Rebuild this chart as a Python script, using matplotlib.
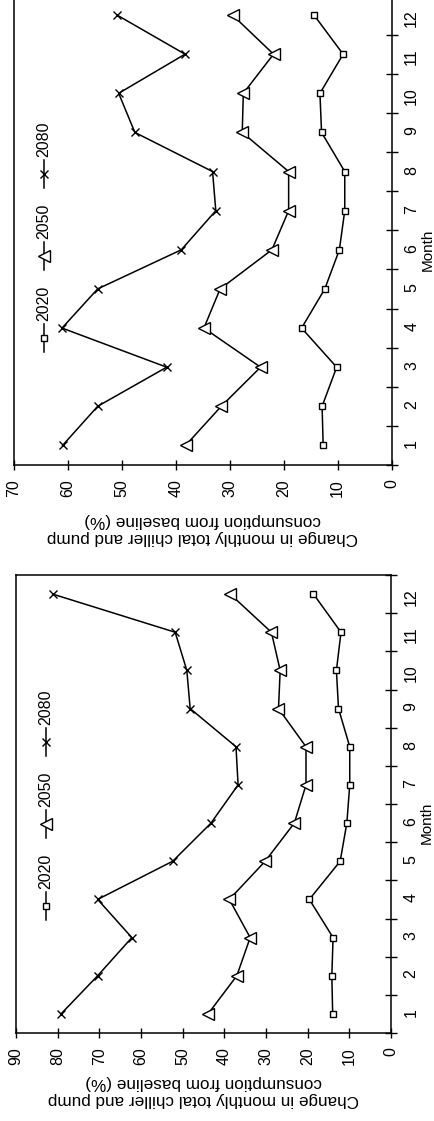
import numpy as np
import matplotlib
matplotlib.use("Agg")
import matplotlib.pyplot as plt
from matplotlib.lines import Line2D
from matplotlib.ticker import MultipleLocator

plt.rcParams['font.family'] = ['Liberation Sans', 'DejaVu Sans']

months = [1, 2, 3, 4, 5, 6, 7, 8, 9, 10, 11, 12]
years = ["2020", "2050", "2080"]

# panel a (0-90 axis, bottom of the picture)
a_2020 = [14.0, 14.2, 13.9, 19.6, 12.2, 10.6, 9.9, 9.9, 12.6, 13.1, 12.0, 18.6]
a_2050 = [43.9, 37.0, 33.8, 38.8, 30.2, 23.2, 20.4, 20.4, 27.0, 26.6, 28.7, 38.6]
a_2080 = [79.2, 70.4, 62.2, 70.4, 52.4, 43.2, 36.7, 37.2, 48.2, 49.0, 51.8, 81.2]

# panel b (0-70 axis, top of the picture)
b_2020 = [12.7, 12.9, 10.2, 16.7, 12.4, 9.7, 8.7, 8.7, 13.0, 13.3, 9.0, 14.4]
b_2050 = [38.2, 31.6, 24.3, 34.8, 31.8, 22.2, 19.1, 19.1, 27.7, 27.5, 21.9, 29.5]
b_2080 = [61.0, 54.5, 41.7, 61.1, 54.5, 39.0, 32.6, 33.2, 47.6, 50.6, 38.3, 50.9]

value_label = "Change in monthly total chiller and pump\nconsumption from baseline (%)"

W, H = 434, 1121
fig = plt.figure(figsize=(W / 100, H / 100), dpi=100)
FS = 11.5

styles = [dict(marker='s', ms=5, mfc='white', mec='k', mew=1.0),
          dict(marker='<', ms=8, mfc='white', mec='k', mew=1.0),
          dict(marker='x', ms=5.5, mec='k', mew=1.0)]


def panel(rect_px, vmax, series, lab_off):
    x0, y0, w, h = rect_px
    ax = fig.add_axes([x0 / W, y0 / H, w / W, h / H])
    for vals, st in zip(series, styles):
        ax.plot(vals, months, color='k', lw=1.1, **st)
    ax.set_xlim(vmax, 0)
    ax.set_ylim(0.5, 12.5)
    ax.xaxis.set_major_locator(MultipleLocator(10))
    ax.tick_params(axis='x', direction='inout', length=7, width=1,
                   labelrotation=90, labelsize=FS, pad=7)
    ax.yaxis.tick_right()
    ax.set_yticks(months)
    ax.set_yticks(np.arange(0.5, 13, 1), minor=True)
    ax.tick_params(axis='y', which='major', length=0, pad=9,
                   labelrotation=90, labelsize=FS)
    ax.tick_params(axis='y', which='minor', direction='inout', length=8, width=1)
    for sp in ax.spines.values():
        sp.set_linewidth(1.1)

    # legend drawn by hand, it has to be vertical
    lx = 30 / w
    for i, (lab, st) in enumerate(zip(years, styles)):
        yc = (127 + 82 * i) / h
        d = 14 / h
        ax.add_line(Line2D([lx, lx], [yc - d, yc + d], transform=ax.transAxes,
                           color='k', lw=1.1, clip_on=False))
        ax.add_line(Line2D([lx], [yc], transform=ax.transAxes, color='k',
                           clip_on=False, **st))
        ax.text(lx, yc + d + 3 / h, lab, rotation=90, ha='center', va='bottom',
                fontsize=FS, transform=ax.transAxes)

    ax.text(0.5, -lab_off / h, value_label, rotation=180, ha='center', va='center',
            multialignment='center', linespacing=1.2, fontsize=12.3,
            transform=ax.transAxes)
    ax.text(1 + 36 / w, 6.0, "Month", rotation=90, ha='center', va='center',
            fontsize=11, transform=ax.get_yaxis_transform())
    return ax


panel((16, 88, 375, 458), 90, [a_2020, a_2050, a_2080], 58)
panel((14, 656, 377.7, 469.5), 70, [b_2020, b_2050, b_2080], 64)

fig.savefig("out.png", dpi=100)
